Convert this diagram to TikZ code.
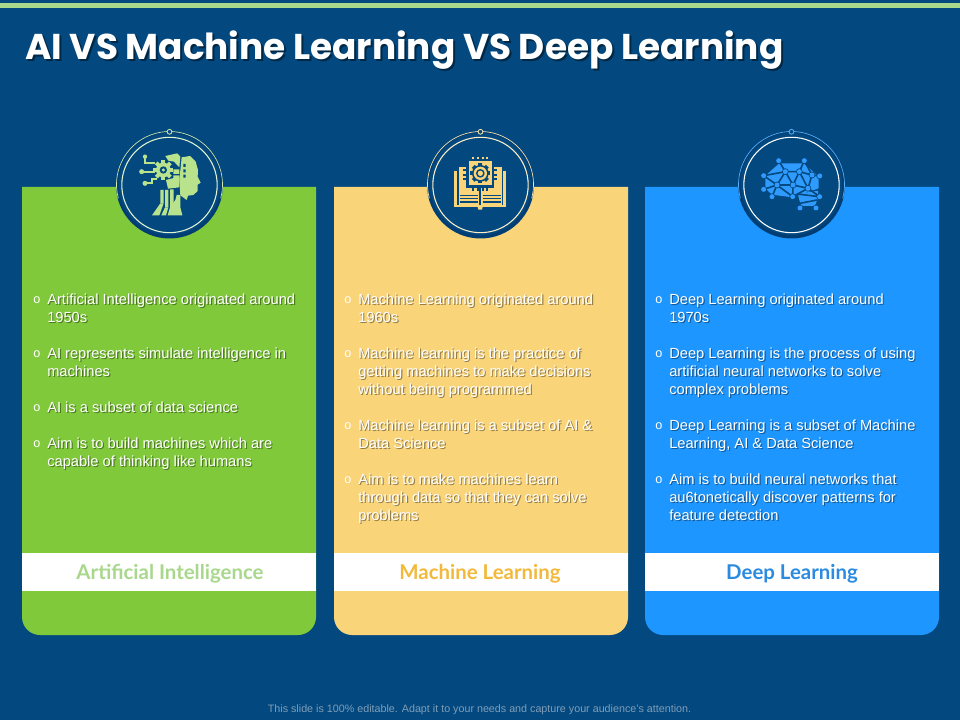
\documentclass[tikz,border=0pt]{standalone}
\usepackage{fontspec}
\setmainfont{Liberation Sans}
\newfontfamily\titlefont{Poppins}
\newfontfamily\labelfont{Lato}
\definecolor{bgblue}{HTML}{03497F}
\definecolor{darkblue}{HTML}{023E73}
\definecolor{stripe}{HTML}{A9D88C}
\definecolor{pgreen}{HTML}{7FC93A}
\definecolor{pyellow}{HTML}{F9D479}
\definecolor{pblue}{HTML}{1E96FF}
\definecolor{lgreen}{HTML}{A9D88C}
\definecolor{lyellow}{HTML}{F2B93B}
\definecolor{lblue}{HTML}{2B8BE0}
\definecolor{igreen}{HTML}{B9E28C}
\definecolor{iyellow}{HTML}{F9D479}
\definecolor{iblue}{HTML}{2F9BFF}
\definecolor{footgrey}{HTML}{7F9DB8}
\tikzset{
 x=0.75pt,y=-0.75pt,
 bodytxt/.style={anchor=north west,inner sep=0pt,align=left,text=white,font=\fontsize{11}{13.5}\selectfont},
 bodyshadow/.style={bodytxt,text=black,text opacity=0.4},
 bul/.style={anchor=center,inner sep=0pt,text=white,font=\fontsize{9.5}{10}\selectfont},
 band/.style={fill=white,draw=none},
 bandtxt/.style={anchor=center,inner sep=0pt,font=\labelfont\bfseries\fontsize{15.3}{17}\selectfont},
 ico/.style={x=0.25pt,y=-0.25pt},
}
% item: x, y(top line centre), name, text
\newcommand{\bitem}[4]{%
 \node[bodyshadow] (#3s) at (#1+1.2,#2-4.6) {#4};
 \node[bodytxt] (#3) at (#1,#2-5.8) {#4};
 \node[bul] (#3b) at (#1-10,#2+0.8) {o};
}
\newcommand{\panel}[3]{% left, colour, name
 \fill[#2] (#1,187) -- (#1+294,187) -- (#1+294,617) arc[start angle=0,end angle=90,radius=18] -- (#1+18,635) arc[start angle=90,end angle=180,radius=18] -- cycle;
 \fill[band] (#1,553) rectangle (#1+294,591);
}
\newcommand{\badge}[3]{% centre x, outer ring colour, inner ring colour
 \fill[darkblue] (#1,185) circle[radius=53.5];
 \fill[bgblue] (#1,184) circle[radius=51];
 \draw[#2,line width=0.5pt] (#1,184.5) ++(165:53) arc[start angle=165,end angle=375,radius=53];
 \draw[#3,line width=0.8pt] (#1,185) circle[radius=47.7];
 \draw[#2,line width=0.6pt,fill=bgblue] (#1,131.8) circle[radius=2.4];
}
\begin{document}
\begin{tikzpicture}
\useasboundingbox (0,0) rectangle (960,720);
\fill[bgblue] (0,0) rectangle (960,720);
\fill[stripe] (0,3) rectangle (960,8);

\node[anchor=west,inner sep=0pt,text=black,text opacity=0.45,font=\titlefont\bfseries\fontsize{26.9}{30}\selectfont] (titleS) at (27,52) {AI VS Machine Learning VS Deep Learning};
\node[anchor=west,inner sep=0pt,text=white,font=\titlefont\bfseries\fontsize{26.9}{30}\selectfont] (title) at (25,50) {AI VS Machine Learning VS Deep Learning};

\panel{22}{pgreen}{a}
\panel{334}{pyellow}{b}
\panel{645}{pblue}{c}

\badge{169.5}{igreen!70!white}{igreen!40!white}
\badge{480.5}{iyellow!60!white}{iyellow!40!white}
\badge{791.5}{iblue!80!white}{white}

% ---- AI head icon
\begin{scope}[ico,shift={(75pt,-90pt)}]
 \fill[igreen] (245,112) -- (270,108) -- (287,125) -- (294,150) -- (293,170) -- (302,188) -- (293,194) -- (293,213) -- (280,225) -- (264,227) -- (260,240) -- (241,226) -- (238,180) -- cycle;
 \fill[bgblue] (250,132) rectangle (257,141) (250,148) rectangle (257,157) (250,164) rectangle (257,173);
 % gear
 \fill[igreen] (190,150) circle[radius=22];
 \foreach \a in {0,45,...,315}{\fill[igreen,rotate around={\a:(190,150)}] (184,120) rectangle (196,135);}
 \fill[bgblue] (190,150) circle[radius=11];
 \fill[igreen] (190,150) circle[radius=5];
 % upper block
 \fill[igreen] (196,108) -- (232,100) -- (241,110) -- (238,142) -- (222,125) -- (205,122) -- cycle;
 \fill[igreen] (220,148) rectangle (238,162) (220,166) rectangle (238,178);
 % neck / chest
 \fill[igreen] (198,180) -- (238,170) -- (238,202) -- (204,206) -- cycle;
 \fill[igreen] (181,210) rectangle (191,250) (195,210) rectangle (205,262) (210,208) rectangle (221,262);
 \fill[igreen] (181,250) -- (191,250) -- (178,286) -- (156,286) -- cycle;
 \fill[igreen] (210,262) -- (226,240) -- (230,225) -- (241,225) -- (241,262) -- (247,286) -- (203,286) -- cycle;
 \fill[igreen] (195,262) -- (205,262) -- (198,286) -- (184,286) -- cycle;
 % circuits
 \draw[igreen,line width=1.5pt] (135,112) -- (135,130) -- (165,130);
 \draw[igreen,line width=1.5pt] (125,155) -- (165,155);
 \draw[igreen,line width=1.5pt] (135,190) -- (155,190) -- (155,178) -- (170,178);
 \fill[igreen] (135,110) circle[radius=6.5] (125,155) circle[radius=7.5] (135,190) circle[radius=7.5];
\end{scope}

% ---- book icon
\begin{scope}[ico,shift={(307.5pt,-90pt)}]
 \fill[iyellow] (133,152) rectangle (288,261);
 \fill[iyellow] (203,261) -- (218,261) -- (216,269) -- (205,269) -- cycle;
 \fill[bgblue] (141,150) rectangle (280,254);
 \fill[iyellow] (146,140) -- (208,140) -- (208,254) -- (146,254) -- cycle;
 \fill[iyellow] (214,140) -- (276,140) -- (276,254) -- (214,254) -- cycle;
 \foreach \yy in {226,236,246}{
  \draw[bgblue,line width=0.9pt] (150,\yy) -- (204,\yy);
  \draw[bgblue,line width=0.9pt] (218,\yy) -- (272,\yy);}
 % chip pins
 \foreach \xx in {190,204,218,232}{
  \draw[iyellow,line width=1.4pt] (\xx,110) -- (\xx,122);
  \draw[bgblue,line width=1.4pt] (\xx,198) -- (\xx,212);}
 \foreach \yy in {136,150,164,178}{
  \draw[bgblue,line width=1.4pt] (160,\yy) -- (262,\yy);}
 % chip
 \fill[bgblue] (169,117) rectangle (253,203);
 \fill[iyellow] (177,124) rectangle (245,196);
 % gear outline
 \fill[bgblue] (211,160) circle[radius=25];
 \foreach \a in {0,45,...,315}{\fill[bgblue,rotate around={\a:(211,160)}] (205,130) rectangle (217,140);}
 \fill[iyellow] (211,160) circle[radius=20];
 \fill[bgblue] (211,160) circle[radius=13];
 \fill[iyellow] (211,160) circle[radius=8];
\end{scope}

% ---- brain icon
\begin{scope}[ico,shift={(541.5pt,-90pt)}]
 \fill[iblue] (130,167) -- (172,130) -- (245,130) -- (290,170) -- (290,205) -- (212,232) -- (150,224) -- (130,205) -- cycle;
 \fill[iblue] (225,222) -- (288,212) -- (288,235) -- (278,258) -- (238,258) -- cycle;
 \draw[bgblue,line width=1.2pt]
  (170,122) -- (190,155) -- (232,155) -- (247,122)
  (190,155) -- (125,167) (190,155) -- (213,195) -- (232,155) -- (270,165) -- (247,122)
  (125,167) -- (165,195) -- (125,208) (165,195) -- (213,195) (190,155) -- (165,195) (165,195) -- (150,230)
  (213,195) -- (212,230) -- (258,205) -- (213,195) (232,155) -- (258,205) -- (270,165) -- (293,168)
  (258,205) -- (293,230) -- (225,222) (234,264) -- (225,222)
  (234,250) -- (285,240) (165,195) -- (212,230);
 \foreach \p/\q in {170/122,247/122,125/167,293/168,190/155,232/155,270/165,213/195,165/195,125/208,150/230,212/230,258/205,293/230,234/264,282/264}{
  \fill[bgblue] (\p,\q) circle[radius=10];
  \fill[iblue] (\p,\q) circle[radius=7.5];}
\end{scope}

% ---- texts
\bitem{47}{299}{a1}{Artificial Intelligence originated around\\1950s}
\bitem{47}{353}{a2}{AI represents simulate intelligence in\\machines}
\bitem{47}{407}{a3}{AI is a subset of data science}
\bitem{47}{443}{a4}{Aim is to build machines which are\\capable of thinking like humans}

\bitem{358}{299}{b1}{Machine Learning originated around\\1960s}
\bitem{358}{353}{b2}{Machine learning is the practice of\\getting machines to make decisions\\without being programmed}
\bitem{358}{425}{b3}{Machine learning is a subset of AI \&\\Data Science}
\bitem{358}{479}{b4}{Aim is to make machines learn\\through data so that they can solve\\problems}

\bitem{669}{299}{c1}{Deep Learning originated around\\1970s}
\bitem{669}{353}{c2}{Deep Learning is the process of using\\artificial neural networks to solve\\complex problems}
\bitem{669}{425}{c3}{Deep Learning is a subset of Machine\\Learning, AI \& Data Science}
\bitem{669}{479}{c4}{Aim is to build neural networks that\\au6tonetically discover patterns for\\feature detection}

\node[bandtxt,text=lgreen] (la) at (170,574) {Artificial Intelligence};
\node[bandtxt,text=lyellow] (lb) at (480,574) {Machine Learning};
\node[bandtxt,text=lblue] (lc) at (792,574) {Deep Learning};

\node[anchor=center,inner sep=0pt,text=footgrey,font=\fontsize{8.05}{9}\selectfont] (foot) at (479.5,709.5) {This slide is 100\% editable. Adapt it to your needs and capture your audience's attention.};
\end{tikzpicture}
\end{document}
